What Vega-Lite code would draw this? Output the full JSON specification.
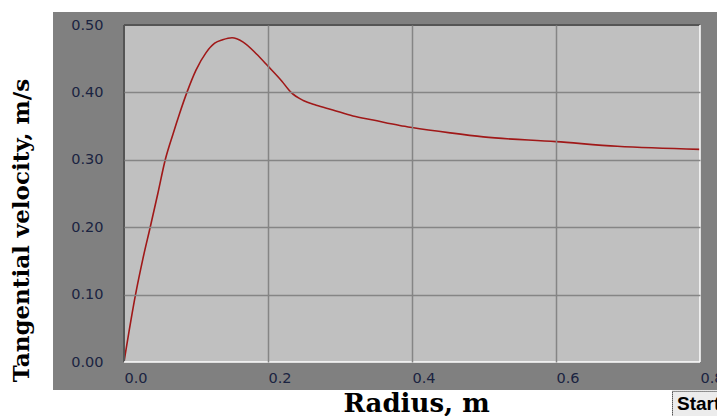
{
  "$schema": "https://vega.github.io/schema/vega-lite/v6.json",
  "width": 576,
  "height": 337,
  "autosize": {"type": "none"},
  "padding": {"left": 124, "top": 25, "right": 17, "bottom": 54},
  "background": "white",
  "config": {"view": {"stroke": null}},
  "layer": [
    {
      "data": {"values": [{}]},
      "mark": {"type": "rect", "color": "#808080", "clip": false},
      "encoding": {
        "x": {"datum": -0.0986, "type": "quantitative"},
        "x2": {"datum": 0.84},
        "y": {"datum": 0.5193, "type": "quantitative"},
        "y2": {"datum": -0.0415}
      }
    },
    {
      "data": {"values": [{}]},
      "mark": {"type": "rect", "color": "#c0c0c0", "clip": false},
      "encoding": {
        "x": {"datum": 0, "type": "quantitative"},
        "x2": {"datum": 0.8},
        "y": {"datum": 0.5, "type": "quantitative"},
        "y2": {"datum": 0}
      }
    },
    {
      "data": {"values": [{}]},
      "mark": {"type": "rect", "fill": "#ececec", "stroke": "#000000", "strokeWidth": 1, "strokeDash": [1, 1], "clip": false},
      "encoding": {
        "x": {"datum": 0.7618, "type": "quantitative"},
        "x2": {"datum": 0.84},
        "y": {"datum": -0.0435, "type": "quantitative"},
        "y2": {"datum": -0.095}
      }
    },
    {
      "data": {"values": [{"label": "Start"}]},
      "mark": {"type": "text", "align": "left", "baseline": "alphabetic", "font": "Liberation Sans", "fontWeight": "bold", "fontSize": 19, "color": "#000000", "clip": false},
      "encoding": {
        "x": {"datum": 0.768, "type": "quantitative"},
        "y": {"datum": -0.0705, "type": "quantitative"},
        "text": {"field": "label"}
      }
    },
    {
      "data": {
        "values": [
          {"r": 0.0, "v": 0.0},
          {"r": 0.016, "v": 0.1},
          {"r": 0.026, "v": 0.152},
          {"r": 0.0364, "v": 0.2},
          {"r": 0.047, "v": 0.25},
          {"r": 0.0573, "v": 0.3},
          {"r": 0.068, "v": 0.338},
          {"r": 0.077, "v": 0.368},
          {"r": 0.0874, "v": 0.4},
          {"r": 0.1, "v": 0.433},
          {"r": 0.114, "v": 0.459},
          {"r": 0.126, "v": 0.473},
          {"r": 0.137, "v": 0.478},
          {"r": 0.15, "v": 0.481},
          {"r": 0.165, "v": 0.475},
          {"r": 0.184, "v": 0.457},
          {"r": 0.2, "v": 0.439},
          {"r": 0.219, "v": 0.417},
          {"r": 0.232, "v": 0.4},
          {"r": 0.249, "v": 0.388},
          {"r": 0.267, "v": 0.381},
          {"r": 0.29, "v": 0.374},
          {"r": 0.318, "v": 0.365},
          {"r": 0.346, "v": 0.359},
          {"r": 0.383, "v": 0.351},
          {"r": 0.4, "v": 0.348},
          {"r": 0.453, "v": 0.34},
          {"r": 0.499, "v": 0.334},
          {"r": 0.6, "v": 0.327},
          {"r": 0.685, "v": 0.32},
          {"r": 0.8, "v": 0.3155}
        ]
      },
      "mark": {"type": "line", "color": "#a01818", "strokeWidth": 1.6, "interpolate": "monotone", "clip": false},
      "encoding": {
        "x": {
          "field": "r",
          "type": "quantitative",
          "scale": {"domain": [0, 0.8], "nice": false, "zero": false},
          "axis": {
            "title": "Radius, m",
            "values": [0, 0.2, 0.4, 0.6, 0.8],
            "format": ".1f",
            "labelAlign": "left",
            "labelFlush": false,
            "labelBaseline": "top",
            "labelPadding": 9,
            "labelBound": false,
            "labelOverlap": false,
            "labelFont": "DejaVu Sans",
            "labelFontSize": 14.5,
            "labelColor": "#1a2340",
            "ticks": false,
            "tickSize": 0,
            "domain": false,
            "grid": true,
            "gridColor": {"condition": {"test": "datum.value <= 0.001 || datum.value >= 0.799", "value": "transparent"}, "value": "#858585"},
            "gridWidth": 1.5,
            "titleFont": "DejaVu Serif",
            "titleFontWeight": "bold",
            "titleFontSize": 26,
            "titleColor": "#000000",
            "titleX": 292,
            "titleY": 49,
            "titleAlign": "center",
            "titleBaseline": "alphabetic",
            "zindex": 1
          }
        },
        "y": {
          "field": "v",
          "type": "quantitative",
          "scale": {"domain": [0, 0.5], "nice": false, "zero": false},
          "axis": {
            "title": "Tangential velocity, m/s",
            "values": [0, 0.1, 0.2, 0.3, 0.4, 0.5],
            "format": ".2f",
            "labelAlign": "right",
            "labelBaseline": "middle",
            "labelPadding": 21,
            "labelBound": false,
            "labelOverlap": false,
            "labelFlush": false,
            "labelFont": "DejaVu Sans",
            "labelFontSize": 14.5,
            "labelColor": "#1a2340",
            "ticks": false,
            "tickSize": 0,
            "domain": false,
            "grid": true,
            "gridColor": {"condition": {"test": "datum.value <= 0.001 || datum.value >= 0.499", "value": "transparent"}, "value": "#858585"},
            "gridWidth": 1.5,
            "titleFont": "DejaVu Serif",
            "titleFontWeight": "bold",
            "titleFontSize": 23,
            "titleColor": "#000000",
            "titleAngle": 270,
            "titleX": -95.5,
            "titleY": 205,
            "titleAlign": "center",
            "titleBaseline": "alphabetic",
            "zindex": 1
          }
        }
      }
    },
    {
      "data": {"values": [{}]},
      "mark": {"type": "rule", "color": "#555555", "strokeWidth": 2, "clip": false},
      "encoding": {
        "x": {"datum": 0, "type": "quantitative"},
        "x2": {"datum": 0.8},
        "y": {"datum": 0.5, "type": "quantitative"}
      }
    },
    {
      "data": {"values": [{}]},
      "mark": {"type": "rule", "color": "#555555", "strokeWidth": 2, "clip": false},
      "encoding": {
        "x": {"datum": 0, "type": "quantitative"},
        "y": {"datum": 0.5, "type": "quantitative"},
        "y2": {"datum": 0}
      }
    },
    {
      "data": {"values": [{}]},
      "mark": {"type": "rule", "color": "#ffffff", "strokeWidth": 1.5, "clip": false},
      "encoding": {
        "x": {"datum": 0, "type": "quantitative"},
        "x2": {"datum": 0.8},
        "y": {"datum": 0, "type": "quantitative"}
      }
    },
    {
      "data": {"values": [{}]},
      "mark": {"type": "rule", "color": "#ffffff", "strokeWidth": 1.5, "clip": false},
      "encoding": {
        "x": {"datum": 0.8, "type": "quantitative"},
        "y": {"datum": 0.5, "type": "quantitative"},
        "y2": {"datum": 0}
      }
    }
  ]
}
